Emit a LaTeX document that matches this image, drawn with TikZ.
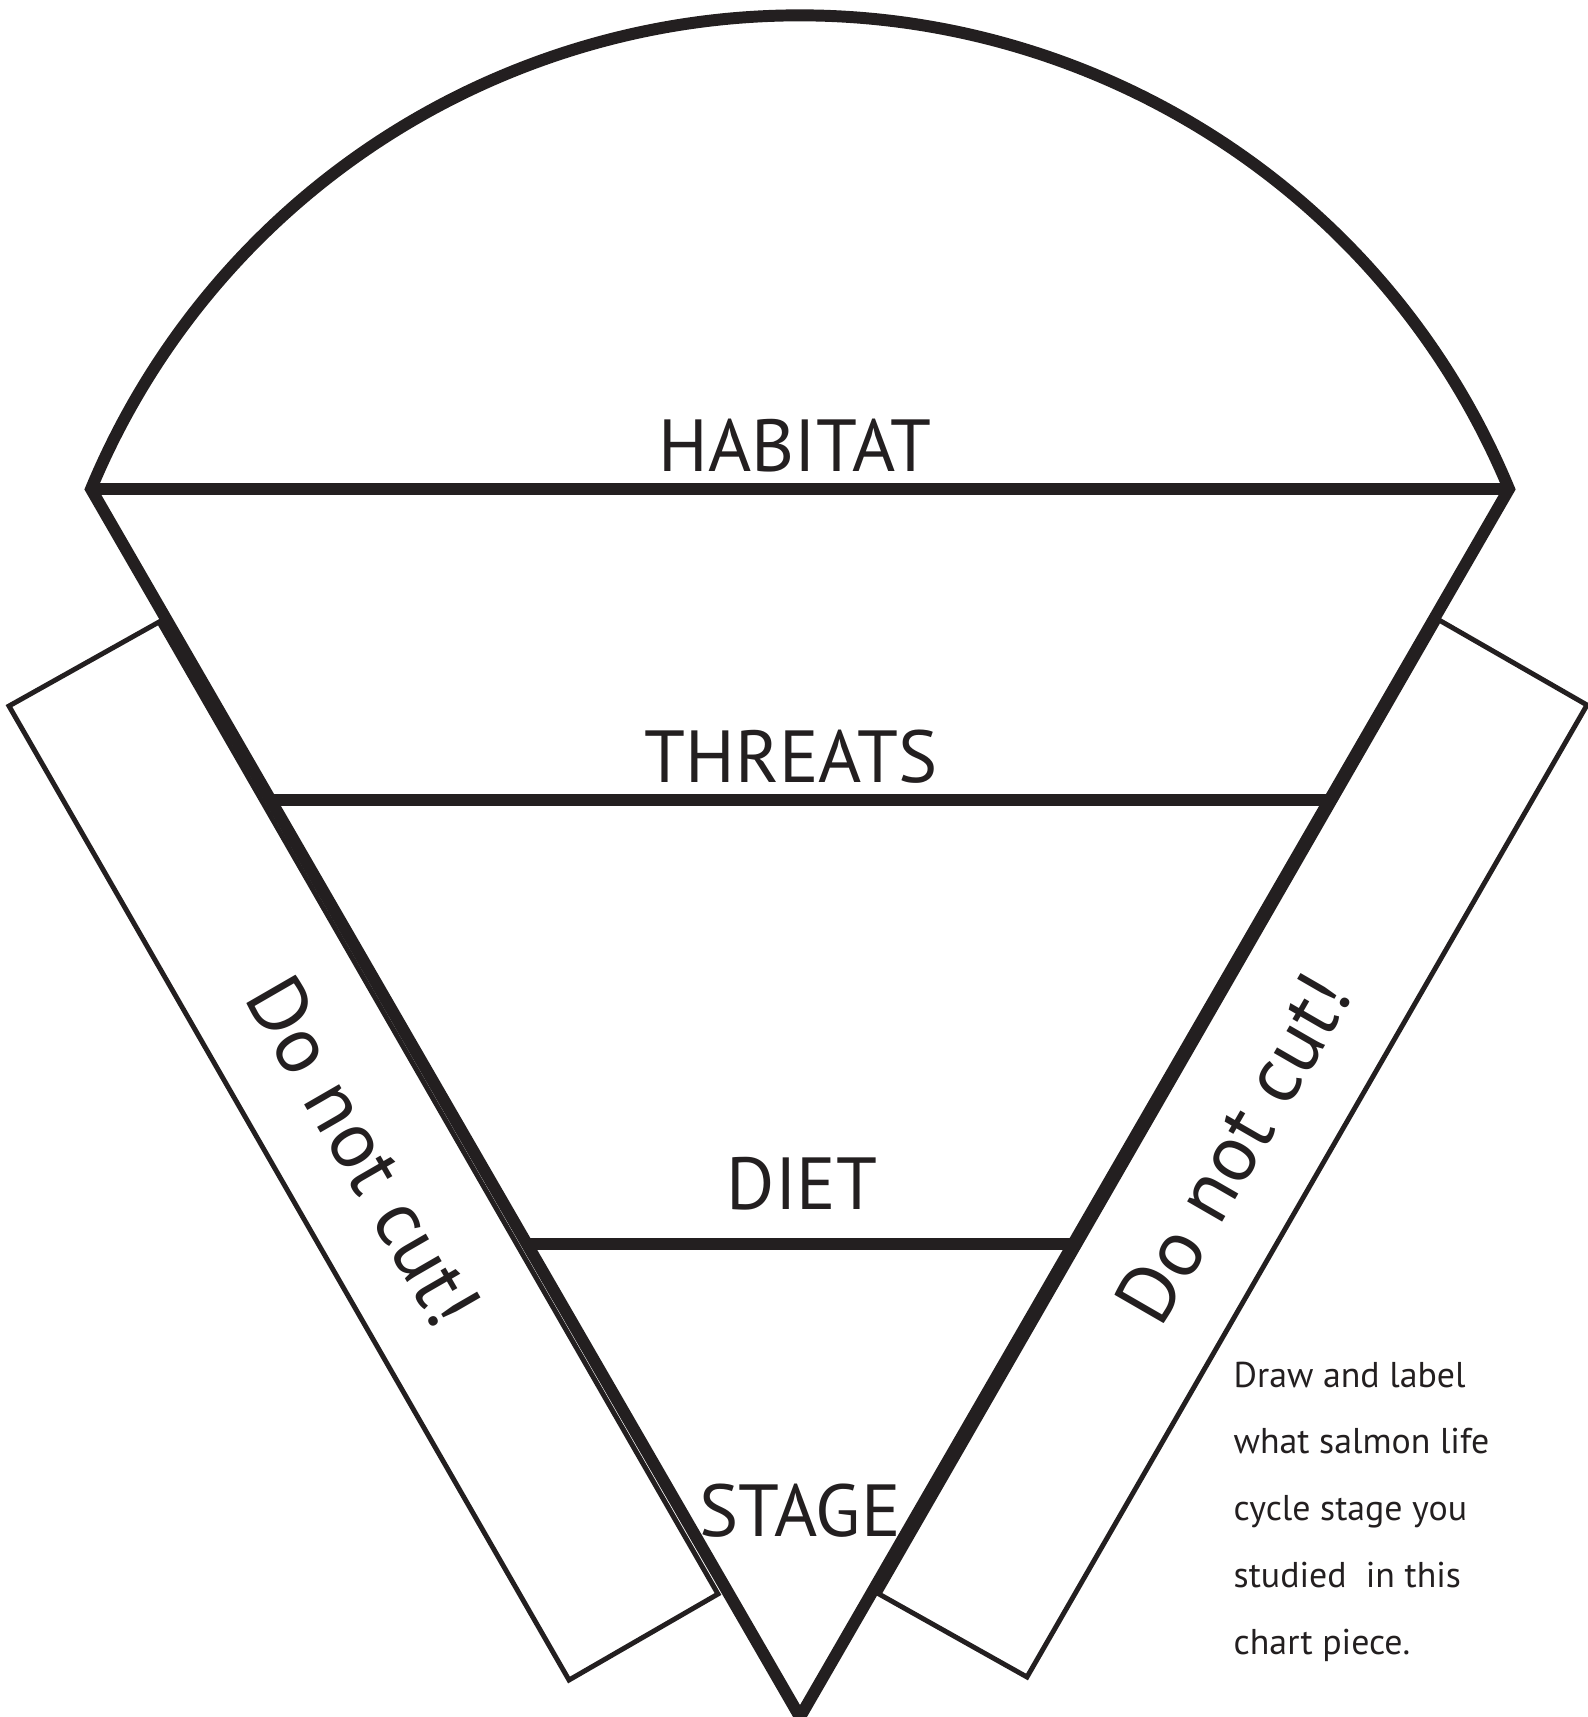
\documentclass[tikz,border=0pt]{standalone}
\usepackage{fontspec}
\setmainfont{PT Sans}
\usetikzlibrary{calc}
\definecolor{ink}{HTML}{231F20}

\begin{document}
\begin{tikzpicture}[
    outline/.style={line width=3.4pt, line join=miter, draw=ink},
    band/.style={line width=3.4pt, draw=ink},
    tab/.style={line width=1.4pt, draw=ink},
    part/.style={font=\fontsize{21}{25}\selectfont, text=ink, anchor=base, inner sep=0pt},
    warn/.style={font=\fontsize{23}{27}\selectfont, text=ink, inner sep=0pt},
    hint/.style={font=\fontsize{10.2}{19}\selectfont, text=ink, align=left, anchor=north west, inner sep=0pt},
]
\useasboundingbox (0,0) rectangle (15.88,-17.17);

% corners of the cone
\coordinate (TL) at (0.91,-4.89);
\coordinate (TR) at (15.09,-4.89);
\coordinate (apex) at (8.00,-17.17);
\coordinate (thL) at ($(TL)!0.2533!(apex)$);
\coordinate (thR) at ($(TR)!0.2533!(apex)$);
\coordinate (diL) at ($(TL)!0.6148!(apex)$);
\coordinate (diR) at ($(TR)!0.6148!(apex)$);

% glue tabs
\coordinate (lt1) at (1.59,-6.22);
\coordinate (lt2) at (0.09,-7.06);
\coordinate (lt3) at (5.69,-16.80);
\coordinate (lt4) at (7.18,-15.94);
\coordinate (rt1) at (14.39,-6.20);
\coordinate (rt2) at (15.87,-7.05);
\coordinate (rt3) at (10.27,-16.77);
\coordinate (rt4) at (8.79,-15.94);
\draw[tab] (lt1) -- (lt2) -- (lt3) -- (lt4) -- cycle;
\draw[tab] (rt1) -- (rt2) -- (rt3) -- (rt4) -- cycle;

% cone and cap
\draw[outline] (TR) arc[start angle=22.53, end angle=157.47, radius=7.676] -- (apex) -- cycle;
\draw[band] (TL) -- (TR);
\draw[band] (thL) -- (thR);
\draw[band] (diL) -- (diR);

% labels
\node[part] (habitat) at (7.95,-4.71) {HABITAT};
\node[part] (threats) at (7.91,-7.82) {THREATS};
\node[part] (diet) at (8.02,-12.09) {DIET};
\node[part] (stage) at (8.00,-15.36) {STAGE};
\node[warn, rotate=-60] (cutL) at ($(lt1)!0.5!(lt3)$) {Do not cut!};
\node[warn, rotate=60] (cutR) at ($(rt1)!0.5!(rt3)$) {Do not cut!};
\node[hint] (note) at (12.33,-13.61) {Draw and label\\what salmon life\\cycle stage you\\studied\ \ in this\\chart piece.};
\end{tikzpicture}
\end{document}
